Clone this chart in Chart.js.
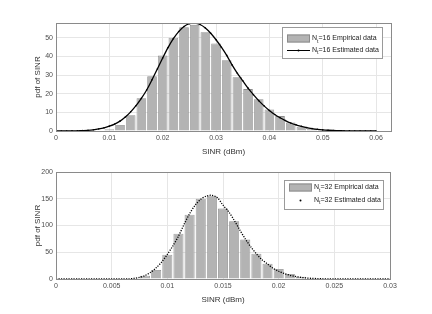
<!DOCTYPE html>
<html>
<head>
<meta charset="utf-8">
<script src="https://cdn.jsdelivr.net/npm/chart.js@4.4.1/dist/chart.umd.min.js"></script>
<style>
  body { margin: 0; background: #fff; }
  canvas { display: block; }
</style>
</head>
<body>
<canvas id="chart16" width="432" height="157"></canvas>
<canvas id="chart32" width="432" height="157"></canvas>
<script>
// N_t = 16 : histogram bins (centre) and heights
const bins16 = [0.010, 0.012, 0.014, 0.016, 0.018, 0.020, 0.022, 0.024, 0.026, 0.028, 0.030,
                0.032, 0.034, 0.036, 0.038, 0.040, 0.042, 0.044, 0.046, 0.048, 0.050, 0.052];
const empirical16 = [1, 3.2, 8.5, 17.6, 29.4, 40.5, 50.1, 55.7, 57, 53, 47,
                     38, 28.9, 22.5, 17.1, 11.6, 8, 4.6, 2.3, 1.4, 0.7, 0.3];

// N_t = 16 : estimated pdf
const sinr16 = [0, 0.001, 0.002, 0.003, 0.004, 0.005, 0.006, 0.007, 0.008, 0.009,
                0.010, 0.011, 0.012, 0.013, 0.014, 0.015, 0.016, 0.017, 0.018, 0.019,
                0.020, 0.021, 0.022, 0.023, 0.024, 0.025, 0.026, 0.027, 0.028, 0.029,
                0.030, 0.031, 0.032, 0.033, 0.034, 0.035, 0.036, 0.037, 0.038, 0.039,
                0.040, 0.041, 0.042, 0.043, 0.044, 0.045, 0.046, 0.047, 0.048, 0.049,
                0.050, 0.051, 0.052, 0.053, 0.054, 0.055, 0.056, 0.057, 0.058, 0.059, 0.060];
const estimated16 = [0, 0, 0, 0.05, 0.1, 0.2, 0.35, 0.65, 1.1, 1.7,
                     2.6, 3.7, 5.3, 7.5, 10.3, 13.6, 17.5, 22, 27.5, 33.3,
                     39.2, 44.8, 49.6, 53.4, 56.1, 57.6, 57.9, 57.2, 55.3, 52.5,
                     49, 45, 40.6, 35.5, 31, 27, 23, 19.5, 16.3, 13.5,
                     11, 8.9, 7.1, 5.6, 4.3, 3.3, 2.5, 1.8, 1.3, 0.9,
                     0.6, 0.4, 0.27, 0.17, 0.11, 0.07, 0.04, 0.02, 0.01, 0.01, 0];

// N_t = 32 : histogram bins (centre) and heights
const bins32 = [0.008, 0.009, 0.010, 0.011, 0.012, 0.013, 0.014, 0.015, 0.016,
                0.017, 0.018, 0.019, 0.020, 0.021, 0.022, 0.023, 0.024];
const empirical32 = [6.2, 16.8, 45.5, 84.8, 120, 150, 154.7, 131.6, 108,
                     73.6, 47.4, 28.7, 18.7, 9.3, 4.3, 1.5, 0.5];

// N_t = 32 : estimated pdf
const sinr32 = [0, 0.0005, 0.001, 0.0015, 0.002, 0.0025, 0.003, 0.0035, 0.004, 0.0045,
                0.005, 0.0055, 0.006, 0.0065, 0.007, 0.0075, 0.008, 0.0085, 0.009, 0.0095,
                0.010, 0.0105, 0.011, 0.0115, 0.012, 0.0125, 0.013, 0.0135, 0.014, 0.0145,
                0.015, 0.0155, 0.016, 0.0165, 0.017, 0.0175, 0.018, 0.0185, 0.019, 0.0195,
                0.020, 0.0205, 0.021, 0.0215, 0.022, 0.0225, 0.023, 0.0235, 0.024, 0.0245,
                0.025, 0.0255, 0.026, 0.0265, 0.027, 0.0275, 0.028, 0.0285, 0.029, 0.0295, 0.030];
const estimated32 = [0, 0, 0, 0, 0, 0, 0, 0, 0, 0,
                     0, 0, 0.05, 0.2, 1.2, 3, 6.5, 12.5, 21, 32,
                     46, 62, 80, 102, 122, 138, 149, 155, 156.5, 152,
                     138, 126, 110, 92, 75, 60, 47, 36, 28, 20,
                     14.5, 10.3, 7, 4.7, 3, 1.9, 1.2, 0.7, 0.4, 0.2,
                     0.1, 0.05, 0, 0, 0, 0, 0, 0, 0, 0, 0];

// axis ticks
const xTicks16 = [0, 0.01, 0.02, 0.03, 0.04, 0.05, 0.06];
const yTicks16 = [0, 10, 20, 30, 40, 50];
const xTicks32 = [0, 0.005, 0.01, 0.015, 0.02, 0.025, 0.03];
const yTicks32 = [0, 50, 100, 150, 200];

const FONT = '"Liberation Sans", Arial, sans-serif';
const BAR_FILL = '#b3b3b3';
const BAR_EDGE = '#8c8c8c';

function toPoints(xs, ys) {
    return xs.map(function(x, i) { return { x: x, y: ys[i] }; });
}

// box round the axes, like matlab "box on"
const boxPlugin = {
    id: 'box',
    afterDraw: function(chart) {
        const a = chart.chartArea;
        const ctx = chart.ctx;
        ctx.save();
        ctx.strokeStyle = '#8a8a8a';
        ctx.lineWidth = 1;
        ctx.strokeRect(Math.round(a.left) + 0.5, Math.round(a.top) + 0.5,
                       Math.round(a.right - a.left), Math.round(a.bottom - a.top));
        ctx.restore();
    }
};

// legend with subscript "t"
const legendPlugin = {
    id: 'subLegend',
    afterDraw: function(chart, args, opts) {
        const ctx = chart.ctx;
        const b = opts.box;
        ctx.save();
        ctx.fillStyle = '#fff';
        ctx.fillRect(b.x, b.y, b.w, b.h);
        ctx.strokeStyle = '#9a9a9a';
        ctx.lineWidth = 1;
        ctx.strokeRect(b.x + 0.5, b.y + 0.5, b.w, b.h);

        // row 1: swatch
        ctx.fillStyle = BAR_FILL;
        ctx.fillRect(b.x + 5, opts.row1 - 4, 23, 8);
        ctx.strokeStyle = BAR_EDGE;
        ctx.strokeRect(b.x + 5.5, opts.row1 - 3.5, 22, 7);

        // row 2: line / dot
        const mx = b.x + 16.5;
        if (opts.line) {
            ctx.strokeStyle = '#000';
            ctx.beginPath();
            ctx.moveTo(b.x + 5, opts.row2 + 0.5);
            ctx.lineTo(b.x + 28, opts.row2 + 0.5);
            ctx.stroke();
        }
        ctx.fillStyle = '#000';
        ctx.beginPath();
        ctx.arc(mx, opts.row2 + 0.5, 1, 0, Math.PI * 2);
        ctx.fill();

        // texts
        [[opts.row1, opts.text1], [opts.row2, opts.text2]].forEach(function(r) {
            let x = b.x + 30;
            ctx.fillStyle = '#222';
            ctx.textBaseline = 'middle';
            ctx.font = '7px ' + FONT;
            ctx.fillText('N', x, r[0]);
            x += ctx.measureText('N').width;
            ctx.font = '5px ' + FONT;
            ctx.fillText('t', x, r[0] + 3);
            x += ctx.measureText('t').width;
            ctx.font = '7px ' + FONT;
            ctx.fillText(r[1], x, r[0]);
        });
        ctx.restore();
    }
};

function makeChart(id, cfg) {
    return new Chart(document.getElementById(id), {
        type: 'bar',
        data: {
            datasets: [
                {
                    type: 'line',
                    data: toPoints(cfg.lineX, cfg.lineY),
                    borderColor: '#000',
                    backgroundColor: '#000',
                    borderWidth: cfg.dotted ? 1.3 : 1.3,
                    borderDash: cfg.dotted ? [1.2, 1.3] : [],
                    pointRadius: cfg.dotted ? 0 : 0.8,
                    pointBorderWidth: 0,
                    tension: 0.3,
                    order: 0
                },
                {
                    type: 'bar',
                    data: toPoints(cfg.bins, cfg.bars),
                    backgroundColor: BAR_FILL,
                    borderColor: BAR_EDGE,
                    borderWidth: 0.8,
                    categoryPercentage: 1,
                    barPercentage: 0.9,
                    order: 1
                }
            ]
        },
        options: {
            responsive: false,
            animation: false,
            layout: { padding: cfg.padding },
            plugins: {
                legend: { display: false },
                tooltip: { enabled: false },
                subLegend: cfg.legend
            },
            scales: {
                x: {
                    type: 'linear',
                    min: 0,
                    max: cfg.xMax,
                    offset: false,
                    afterFit: function(s) { s.height = 26; },
                    afterBuildTicks: function(s) {
                        s.ticks = cfg.xTicks.map(function(v) { return { value: v }; });
                    },
                    grid: { color: '#e6e6e6', drawTicks: false, offset: false },
                    border: { display: false },
                    ticks: {
                        padding: 3,
                        color: '#4d4d4d',
                        font: { family: FONT, size: 7 },
                        maxRotation: 0,
                        callback: function(v) { return String(v); }
                    },
                    title: {
                        display: true,
                        text: 'SINR (dBm)',
                        color: '#333',
                        font: { family: FONT, size: 8 },
                        padding: 0
                    }
                },
                y: {
                    min: 0,
                    max: cfg.yMax,
                    afterFit: function(s) { s.width = 23; },
                    afterBuildTicks: function(s) {
                        s.ticks = cfg.yTicks.map(function(v) { return { value: v }; });
                    },
                    grid: { color: '#e6e6e6', drawTicks: false },
                    border: { display: false },
                    ticks: {
                        padding: 3,
                        color: '#4d4d4d',
                        font: { family: FONT, size: 7 }
                    },
                    title: {
                        display: true,
                        text: 'pdf of SINR',
                        color: '#333',
                        font: { family: FONT, size: 8 },
                        padding: 0
                    }
                }
            }
        },
        plugins: [boxPlugin, legendPlugin]
    });
}

makeChart('chart16', {
    bins: bins16, bars: empirical16,
    lineX: sinr16, lineY: estimated16,
    dotted: false,
    xMax: 0.0628, yMax: 58,
    xTicks: xTicks16, yTicks: yTicks16,
    padding: { left: 33, right: 41, top: 23, bottom: 0 },
    legend: {
        box: { x: 282, y: 27, w: 100, h: 31 },
        row1: 38.5, row2: 50,
        line: true,
        text1: '=16 Empirical data',
        text2: '=16 Estimated data'
    }
});

makeChart('chart32', {
    bins: bins32, bars: empirical32,
    lineX: sinr32, lineY: estimated32,
    dotted: true,
    xMax: 0.03, yMax: 200,
    xTicks: xTicks32, yTicks: yTicks32,
    padding: { left: 33, right: 42, top: 15, bottom: 9 },
    legend: {
        box: { x: 284, y: 23, w: 99, h: 29 },
        row1: 30.5, row2: 43,
        line: false,
        text1: '=32 Empirical data',
        text2: '=32 Estimated data'
    }
});
</script>
</body>
</html>
